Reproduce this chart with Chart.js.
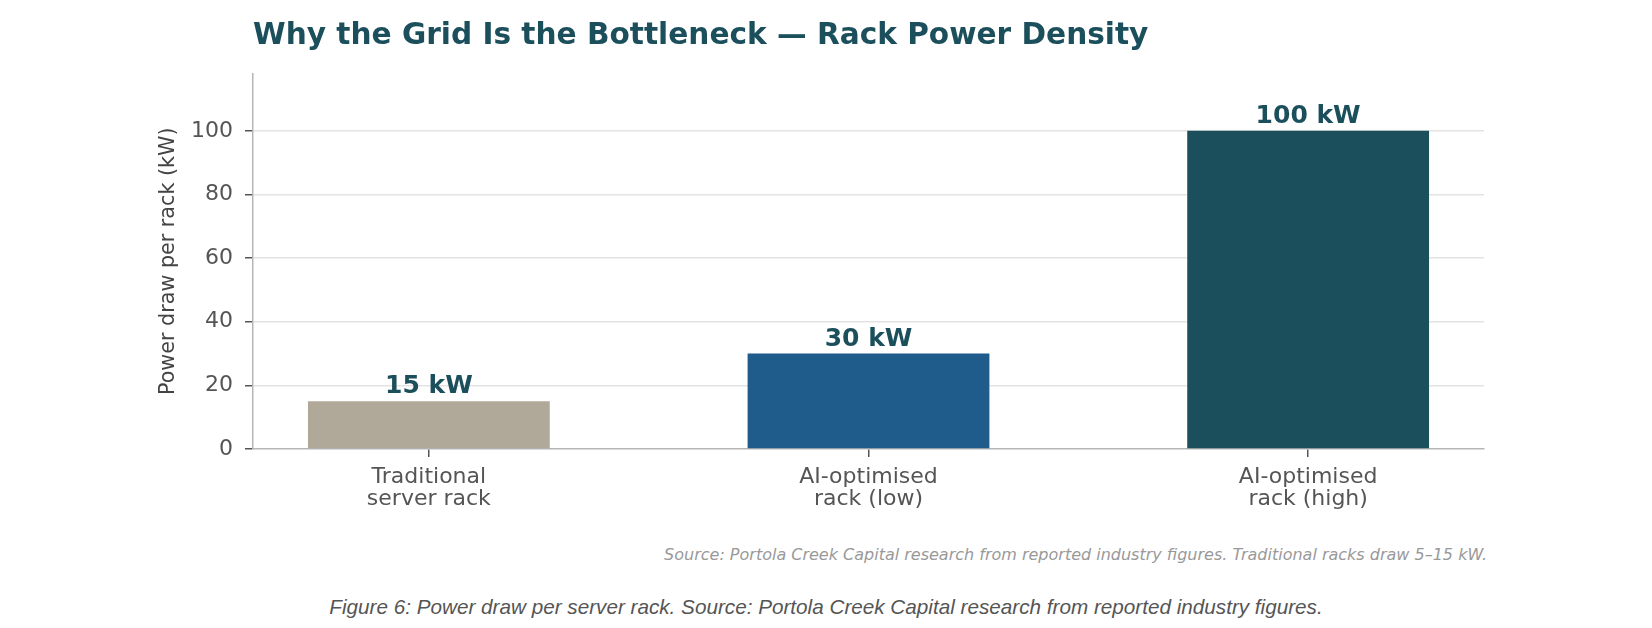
<!DOCTYPE html>
<html>
<head>
<meta charset="utf-8">
<script src="https://cdn.jsdelivr.net/npm/chart.js@4.4.1/dist/chart.umd.min.js"></script>
<style>
    body { margin: 0; background: #fff; width: 1652px; height: 628px; overflow: hidden; position: relative; }
    #contenedor { position: absolute; left: 0; top: 0; width: 1652px; height: 520px; }
    #nota { position: absolute; right: 165px; top: 546px; font: italic 16px/18px "DejaVu Sans"; color: #999; white-space: nowrap; }
    #pie { position: absolute; left: 0; top: 596px; width: 1652px; text-align: center; font: italic 20.7px/22px "Liberation Sans"; color: #555; }
</style>
</head>
<body>
<div id="contenedor"><canvas id="densidad_rack"></canvas></div>
<div id="nota">Source: Portola Creek Capital research from reported industry figures. Traditional racks draw 5–15 kW.</div>
<div id="pie">Figure 6: Power draw per server rack. Source: Portola Creek Capital research from reported industry figures.</div>

<script>
// datos
const categorias = [
    ['Traditional', 'server rack'],
    ['AI-optimised', 'rack (low)'],
    ['AI-optimised', 'rack (high)']
];
const potenciaKw = [15, 30, 100];
const coloresBarra = ['#b0a99a', '#1f5b8b', '#1c4f5c'];
const ticksY = [0, 20, 40, 60, 80, 100];

window.addEventListener('DOMContentLoaded', () => {

    Chart.defaults.font.family = '"DejaVu Sans", sans-serif';

    // etiquetas "xx kW" encima de cada barra
    const etiquetasValor = {
        id: 'etiquetasValor',
        afterDatasetsDraw(chart) {
            const { ctx } = chart;
            const meta = chart.getDatasetMeta(0);
            ctx.save();
            ctx.font = 'bold 25px "DejaVu Sans"';
            ctx.fillStyle = '#1c4f5c';
            ctx.textAlign = 'center';
            ctx.textBaseline = 'alphabetic';
            meta.data.forEach((barra, i) => {
                ctx.fillText(`${potenciaKw[i]} kW`, barra.x, barra.y - 8);
            });
            ctx.restore();
        }
    };

    const ctx = document.getElementById('densidad_rack').getContext('2d');

    const data = {
        datasets: [
            {
                label: 'Power draw per rack (kW)',
                data: potenciaKw.map((v, i) => ({ x: i, y: v })),
                backgroundColor: coloresBarra,
                borderWidth: 0,
                categoryPercentage: 1,
                barPercentage: 0.55
            }
        ]
    };

    const config = {
        type: 'bar',
        data,
        options: {
            responsive: true,
            maintainAspectRatio: false,
            animation: false,
            layout: { padding: { left: 156, right: 168, bottom: 1, top: 0 } },
            plugins: {
                legend: { display: false },
                tooltip: { enabled: false },
                title: {
                    display: true,
                    text: 'Why the Grid Is the Bottleneck — Rack Power Density',
                    align: 'start',
                    fullSize: false,
                    color: '#1c4f5c',
                    font: { size: 29.6, weight: 'bold' },
                    padding: { top: 19, bottom: 19 }
                }
            },
            scales: {
                x: {
                    type: 'linear',
                    min: -0.4,
                    max: 2.4,
                    offset: false,
                    afterBuildTicks: (eje) => { eje.ticks = categorias.map((c, i) => ({ value: i })); },
                    ticks: {
                        callback: (valor) => categorias[valor],
                        color: '#555',
                        font: { size: 22, lineHeight: 1.0 },
                        padding: 9,
                        maxRotation: 0,
                        autoSkip: false
                    },
                    grid: { offset: false, drawOnChartArea: false, tickLength: 8, tickColor: '#555', lineWidth: 1.5 },
                    border: { color: '#b5b5b5', width: 1.5 }
                },
                y: {
                    min: 0,
                    max: 118,
                    afterBuildTicks: (eje) => { eje.ticks = ticksY.map((v) => ({ value: v })); },
                    afterFit: (eje) => { eje.width = 97; },
                    ticks: { color: '#555', font: { size: 22 }, padding: 12 },
                    grid: {
                        color: (c) => (c.tick && c.tick.value === 0 ? 'rgba(0,0,0,0)' : '#e3e3e3'),
                        lineWidth: 1.5,
                        tickLength: 8,
                        tickColor: '#555'
                    },
                    border: { color: '#b5b5b5', width: 1.5 },
                    title: {
                        display: true,
                        text: 'Power draw per rack (kW)',
                        color: '#444',
                        font: { size: 20.7 },
                        padding: { top: 0, bottom: 0 }
                    }
                }
            }
        },
        plugins: [etiquetasValor]
    };

    new Chart(ctx, config);
});
</script>
</body>
</html>
